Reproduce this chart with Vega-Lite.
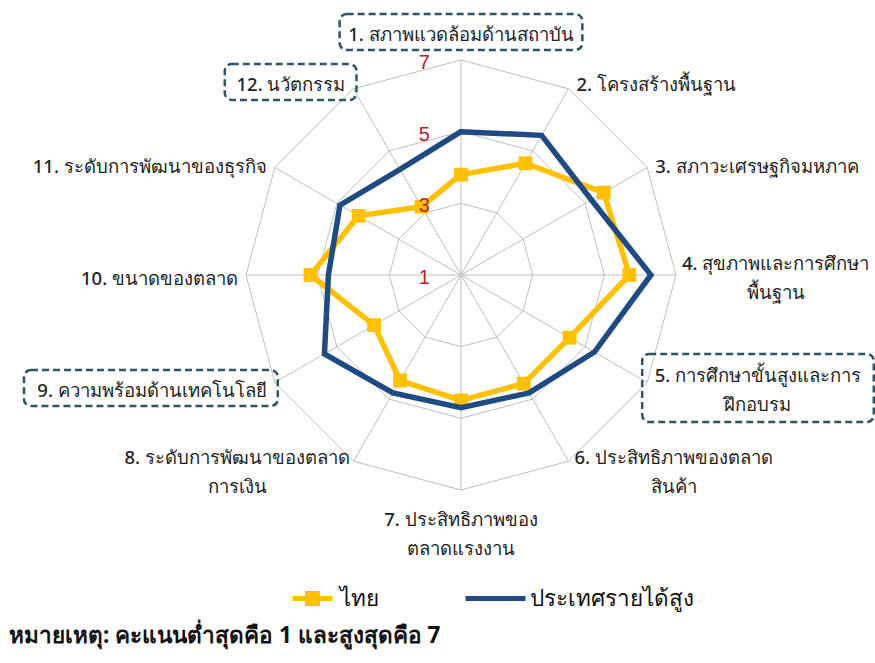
{
  "$schema": "https://vega.github.io/schema/vega-lite/v6.json",
  "width": 875,
  "height": 620,
  "autosize": "none",
  "padding": {"left": 0, "top": 0, "right": 0, "bottom": 43},
  "background": "white",
  "config": {
    "view": {"stroke": null},
    "font": "Noto Sans",
    "legend": {"padding": 0}
  },
  "title": {
    "text": "หมายเหตุ: คะแนนต่ำสุดคือ 1 และสูงสุดคือ 7",
    "orient": "bottom",
    "anchor": "start",
    "frame": "group",
    "offset": 5,
    "dx": 9,
    "fontSize": 22.5,
    "fontWeight": "bold",
    "color": "#111111",
    "font": "Noto Sans"
  },
  "datasets": {
    "axes": [
      {"axis": 1, "label": "1. สภาพแวดล้อมด้านสถาบัน", "boxed": true},
      {"axis": 2, "label": "2. โครงสร้างพื้นฐาน", "boxed": false},
      {"axis": 3, "label": "3. สภาวะเศรษฐกิจมหภาค", "boxed": false},
      {"axis": 4, "label": "4. สุขภาพและการศึกษา\nพื้นฐาน", "boxed": false},
      {"axis": 5, "label": "5. การศึกษาขั้นสูงและการ\nฝึกอบรม", "boxed": true},
      {"axis": 6, "label": "6. ประสิทธิภาพของตลาด\nสินค้า", "boxed": false},
      {"axis": 7, "label": "7. ประสิทธิภาพของ\nตลาดแรงงาน", "boxed": false},
      {"axis": 8, "label": "8. ระดับการพัฒนาของตลาด\nการเงิน", "boxed": false},
      {"axis": 9, "label": "9. ความพร้อมด้านเทคโนโลยี", "boxed": true},
      {"axis": 10, "label": "10. ขนาดของตลาด", "boxed": false},
      {"axis": 11, "label": "11. ระดับการพัฒนาของธุรกิจ", "boxed": false},
      {"axis": 12, "label": "12. นวัตกรรม", "boxed": true}
    ],
    "scores": [
      {"axis": 1, "series": "ไทย", "value": 3.8},
      {"axis": 2, "series": "ไทย", "value": 4.6},
      {"axis": 3, "series": "ไทย", "value": 5.6},
      {"axis": 4, "series": "ไทย", "value": 5.7},
      {"axis": 5, "series": "ไทย", "value": 4.5},
      {"axis": 6, "series": "ไทย", "value": 4.5},
      {"axis": 7, "series": "ไทย", "value": 4.5},
      {"axis": 8, "series": "ไทย", "value": 4.4},
      {"axis": 9, "series": "ไทย", "value": 3.8},
      {"axis": 10, "series": "ไทย", "value": 5.2},
      {"axis": 11, "series": "ไทย", "value": 4.3},
      {"axis": 12, "series": "ไทย", "value": 3.2},
      {"axis": 1, "series": "ประเทศรายได้สูง", "value": 5.0},
      {"axis": 2, "series": "ประเทศรายได้สูง", "value": 5.5},
      {"axis": 3, "series": "ประเทศรายได้สูง", "value": 5.2},
      {"axis": 4, "series": "ประเทศรายได้สูง", "value": 6.3},
      {"axis": 5, "series": "ประเทศรายได้สูง", "value": 5.3},
      {"axis": 6, "series": "ประเทศรายได้สูง", "value": 4.8},
      {"axis": 7, "series": "ประเทศรายได้สูง", "value": 4.7},
      {"axis": 8, "series": "ประเทศรายได้สูง", "value": 4.8},
      {"axis": 9, "series": "ประเทศรายได้สูง", "value": 5.4},
      {"axis": 10, "series": "ประเทศรายได้สูง", "value": 4.7},
      {"axis": 11, "series": "ประเทศรายได้สูง", "value": 4.9},
      {"axis": 12, "series": "ประเทศรายได้สูง", "value": 4.4}
    ],
    "levels": [
      {"level": 1},
      {"level": 3},
      {"level": 5},
      {"level": 7}
    ]
  },
  "encoding": {
    "x": {"field": "px", "type": "quantitative", "scale": {"domain": [-12.865, 11.554], "nice": false, "zero": false}, "axis": null},
    "y": {"field": "py", "type": "quantitative", "scale": {"domain": [-9.628, 7.674], "nice": false, "zero": false}, "axis": null}
  },
  "layer": [
    {
      "data": {"name": "axes"},
      "transform": [
        {"calculate": "(datum.axis - 1) * PI / 6", "as": "ang"},
        {"calculate": "[2, 4, 6]", "as": "ring"},
        {"flatten": ["ring"]},
        {"calculate": "datum.ring * sin(datum.ang)", "as": "px"},
        {"calculate": "datum.ring * cos(datum.ang)", "as": "py"}
      ],
      "mark": {"type": "line", "interpolate": "linear-closed", "stroke": "#BFBFBF", "strokeWidth": 1},
      "encoding": {
        "detail": {"field": "ring", "type": "nominal"},
        "order": {"field": "axis", "type": "quantitative"}
      }
    },
    {
      "data": {"name": "axes"},
      "transform": [
        {"calculate": "(datum.axis - 1) * PI / 6", "as": "ang"},
        {"calculate": "0", "as": "px"},
        {"calculate": "0", "as": "py"},
        {"calculate": "6 * sin(datum.ang)", "as": "ex"},
        {"calculate": "6 * cos(datum.ang)", "as": "ey"}
      ],
      "mark": {"type": "rule", "stroke": "#BFBFBF", "strokeWidth": 1},
      "encoding": {
        "x2": {"field": "ex"},
        "y2": {"field": "ey"}
      }
    },
    {
      "data": {"name": "scores"},
      "transform": [
        {"filter": "datum.series === 'ไทย'"},
        {"calculate": "(datum.axis - 1) * PI / 6", "as": "ang"},
        {"calculate": "(datum.value - 1) * sin(datum.ang)", "as": "px"},
        {"calculate": "(datum.value - 1) * cos(datum.ang)", "as": "py"}
      ],
      "mark": {"type": "line", "interpolate": "linear-closed", "strokeWidth": 5.5, "strokeJoin": "miter"},
      "encoding": {
        "order": {"field": "axis", "type": "quantitative"},
        "color": {
          "field": "series",
          "type": "nominal",
          "scale": {"domain": ["ไทย"], "range": ["#FFC000"]},
          "legend": {
            "title": null,
            "orient": "none",
            "legendX": 290,
            "legendY": 576,
            "symbolType": "stroke",
            "symbolSize": 1600,
            "symbolStrokeWidth": 5,
            "labelFontSize": 22.5,
            "labelColor": "#111111",
            "labelFont": "Noto Sans",
            "labelOffset": 5,
            "labelLimit": 400,
            "encode": {
              "symbols": {
                "update": {
                  "shape": {"value": "M-1,0H1M-0.25,-0.25H0.25V0.25H-0.25Z"},
                  "fill": {"value": "#FFC000"}
                }
              }
            }
          }
        }
      }
    },
    {
      "data": {"name": "scores"},
      "transform": [
        {"filter": "datum.series === 'ไทย'"},
        {"calculate": "(datum.axis - 1) * PI / 6", "as": "ang"},
        {"calculate": "(datum.value - 1) * sin(datum.ang)", "as": "px"},
        {"calculate": "(datum.value - 1) * cos(datum.ang)", "as": "py"}
      ],
      "mark": {"type": "square", "filled": true, "size": 190, "color": "#FFC000", "opacity": 1},
      "encoding": {}
    },
    {
      "data": {"name": "scores"},
      "transform": [
        {"filter": "datum.series === 'ประเทศรายได้สูง'"},
        {"calculate": "(datum.axis - 1) * PI / 6", "as": "ang"},
        {"calculate": "(datum.value - 1) * sin(datum.ang)", "as": "px"},
        {"calculate": "(datum.value - 1) * cos(datum.ang)", "as": "py"}
      ],
      "mark": {"type": "line", "interpolate": "linear-closed", "strokeWidth": 5.5, "strokeJoin": "miter"},
      "encoding": {
        "order": {"field": "axis", "type": "quantitative"},
        "stroke": {
          "field": "series",
          "type": "nominal",
          "scale": {"domain": ["ประเทศรายได้สูง"], "range": ["#1F4A82"]},
          "legend": {
            "title": null,
            "orient": "none",
            "legendX": 463,
            "legendY": 566,
            "symbolType": "stroke",
            "symbolSize": 3600,
            "symbolStrokeWidth": 5,
            "labelFontSize": 22.5,
            "labelColor": "#111111",
            "labelFont": "Noto Sans",
            "labelOffset": 2,
            "labelLimit": 400
          }
        }
      }
    },
    {
      "data": {"name": "levels"},
      "transform": [
        {"calculate": "0", "as": "px"},
        {"calculate": "datum.level - 1", "as": "py"}
      ],
      "mark": {"type": "text", "align": "right", "baseline": "middle", "dx": -31, "dy": 3, "fontSize": 20, "color": "#B8232B", "font": "Liberation Sans"},
      "encoding": {
        "text": {"field": "level", "type": "quantitative"}
      }
    },
    {
      "data": {"name": "axes"},
      "transform": [
        {"calculate": "(datum.axis - 1) * PI / 6", "as": "ang"},
        {"calculate": "sin(datum.ang)", "as": "sx"},
        {"calculate": "cos(datum.ang)", "as": "cy"},
        {"calculate": "split(datum.label, '\\n')", "as": "lines"},
        {"calculate": "length(datum.lines)", "as": "nl"},
        {"calculate": "replace(datum.lines[0], regexp('[\u0E31\u0E34-\u0E3A\u0E47-\u0E4E]', 'g'), '')", "as": "base"},
        {"calculate": "length(replace(datum.base, regexp('[. ]', 'g'), ''))", "as": "nwide"},
        {"calculate": "length(datum.base) - datum.nwide", "as": "nnarrow"},
        {"calculate": "18.5 * (0.6 * datum.nwide + 0.265 * datum.nnarrow)", "as": "w"},
        {"calculate": "abs(datum.sx) < 0.1 ? 0 : (datum.sx > 0 ? 1 : -1)", "as": "side"},
        {"calculate": "datum.side == 0 || datum.nl > 1 ? 'center' : (datum.side > 0 ? 'left' : 'right')", "as": "al"},
        {"calculate": "datum.side == 0 ? 0 : (datum.nl > 1 ? datum.side * (6 + datum.w / 2) : datum.side * 8)", "as": "dxp"},
        {"calculate": "datum.side != 0 ? 4 - 9 * datum.cy : (datum.cy > 0 ? -25 : 45)", "as": "dyp"},
        {"calculate": "6 * datum.sx + datum.dxp / 35.8333", "as": "px"},
        {"calculate": "6 * datum.cy - datum.dyp / 35.8333", "as": "bcy"},
        {"calculate": "datum.bcy + (datum.nl - 1) * 14.5 / 35.8333", "as": "py"}
      ],
      "layer": [
        {
          "transform": [
            {"filter": "datum.boxed"},
            {"calculate": "datum.al == 'left' ? datum.px + datum.w / 2 / 35.8333 : (datum.al == 'right' ? datum.px - datum.w / 2 / 35.8333 : datum.px)", "as": "bcx"},
            {"calculate": "(datum.w / 2 + 11) / 35.8333", "as": "bhw"},
            {"calculate": "(18 + (datum.nl - 1) * 16) / 35.8333", "as": "bhh"},
            {"calculate": "datum.bcy + 3 / 35.8333", "as": "bcy"},
            {"calculate": "datum.bcy + datum.bhh", "as": "by2"},
            {"calculate": "datum.bcx + datum.bhw", "as": "bx2"},
            {"calculate": "datum.bcx - datum.bhw", "as": "px"},
            {"calculate": "datum.bcy - datum.bhh", "as": "py"}
          ],
          "mark": {"type": "rect", "filled": false, "stroke": "#2E5566", "strokeWidth": 2.5, "strokeDash": [7, 4], "cornerRadius": 7},
          "encoding": {
            "x2": {"field": "bx2"},
            "y2": {"field": "by2"}
          }
        },
        {
          "transform": [{"filter": "datum.al == 'left'"}],
          "mark": {"type": "text", "align": "left", "baseline": "middle", "fontSize": 18.5, "fontWeight": 500, "lineHeight": 29, "color": "#222222", "font": "Noto Sans"},
          "encoding": {"text": {"field": "lines", "type": "nominal"}}
        },
        {
          "transform": [{"filter": "datum.al == 'right'"}],
          "mark": {"type": "text", "align": "right", "baseline": "middle", "fontSize": 18.5, "fontWeight": 500, "lineHeight": 29, "color": "#222222", "font": "Noto Sans"},
          "encoding": {"text": {"field": "lines", "type": "nominal"}}
        },
        {
          "transform": [{"filter": "datum.al == 'center'"}],
          "mark": {"type": "text", "align": "center", "baseline": "middle", "fontSize": 18.5, "fontWeight": 500, "lineHeight": 29, "color": "#222222", "font": "Noto Sans"},
          "encoding": {"text": {"field": "lines", "type": "nominal"}}
        }
      ]
    }
  ]
}
